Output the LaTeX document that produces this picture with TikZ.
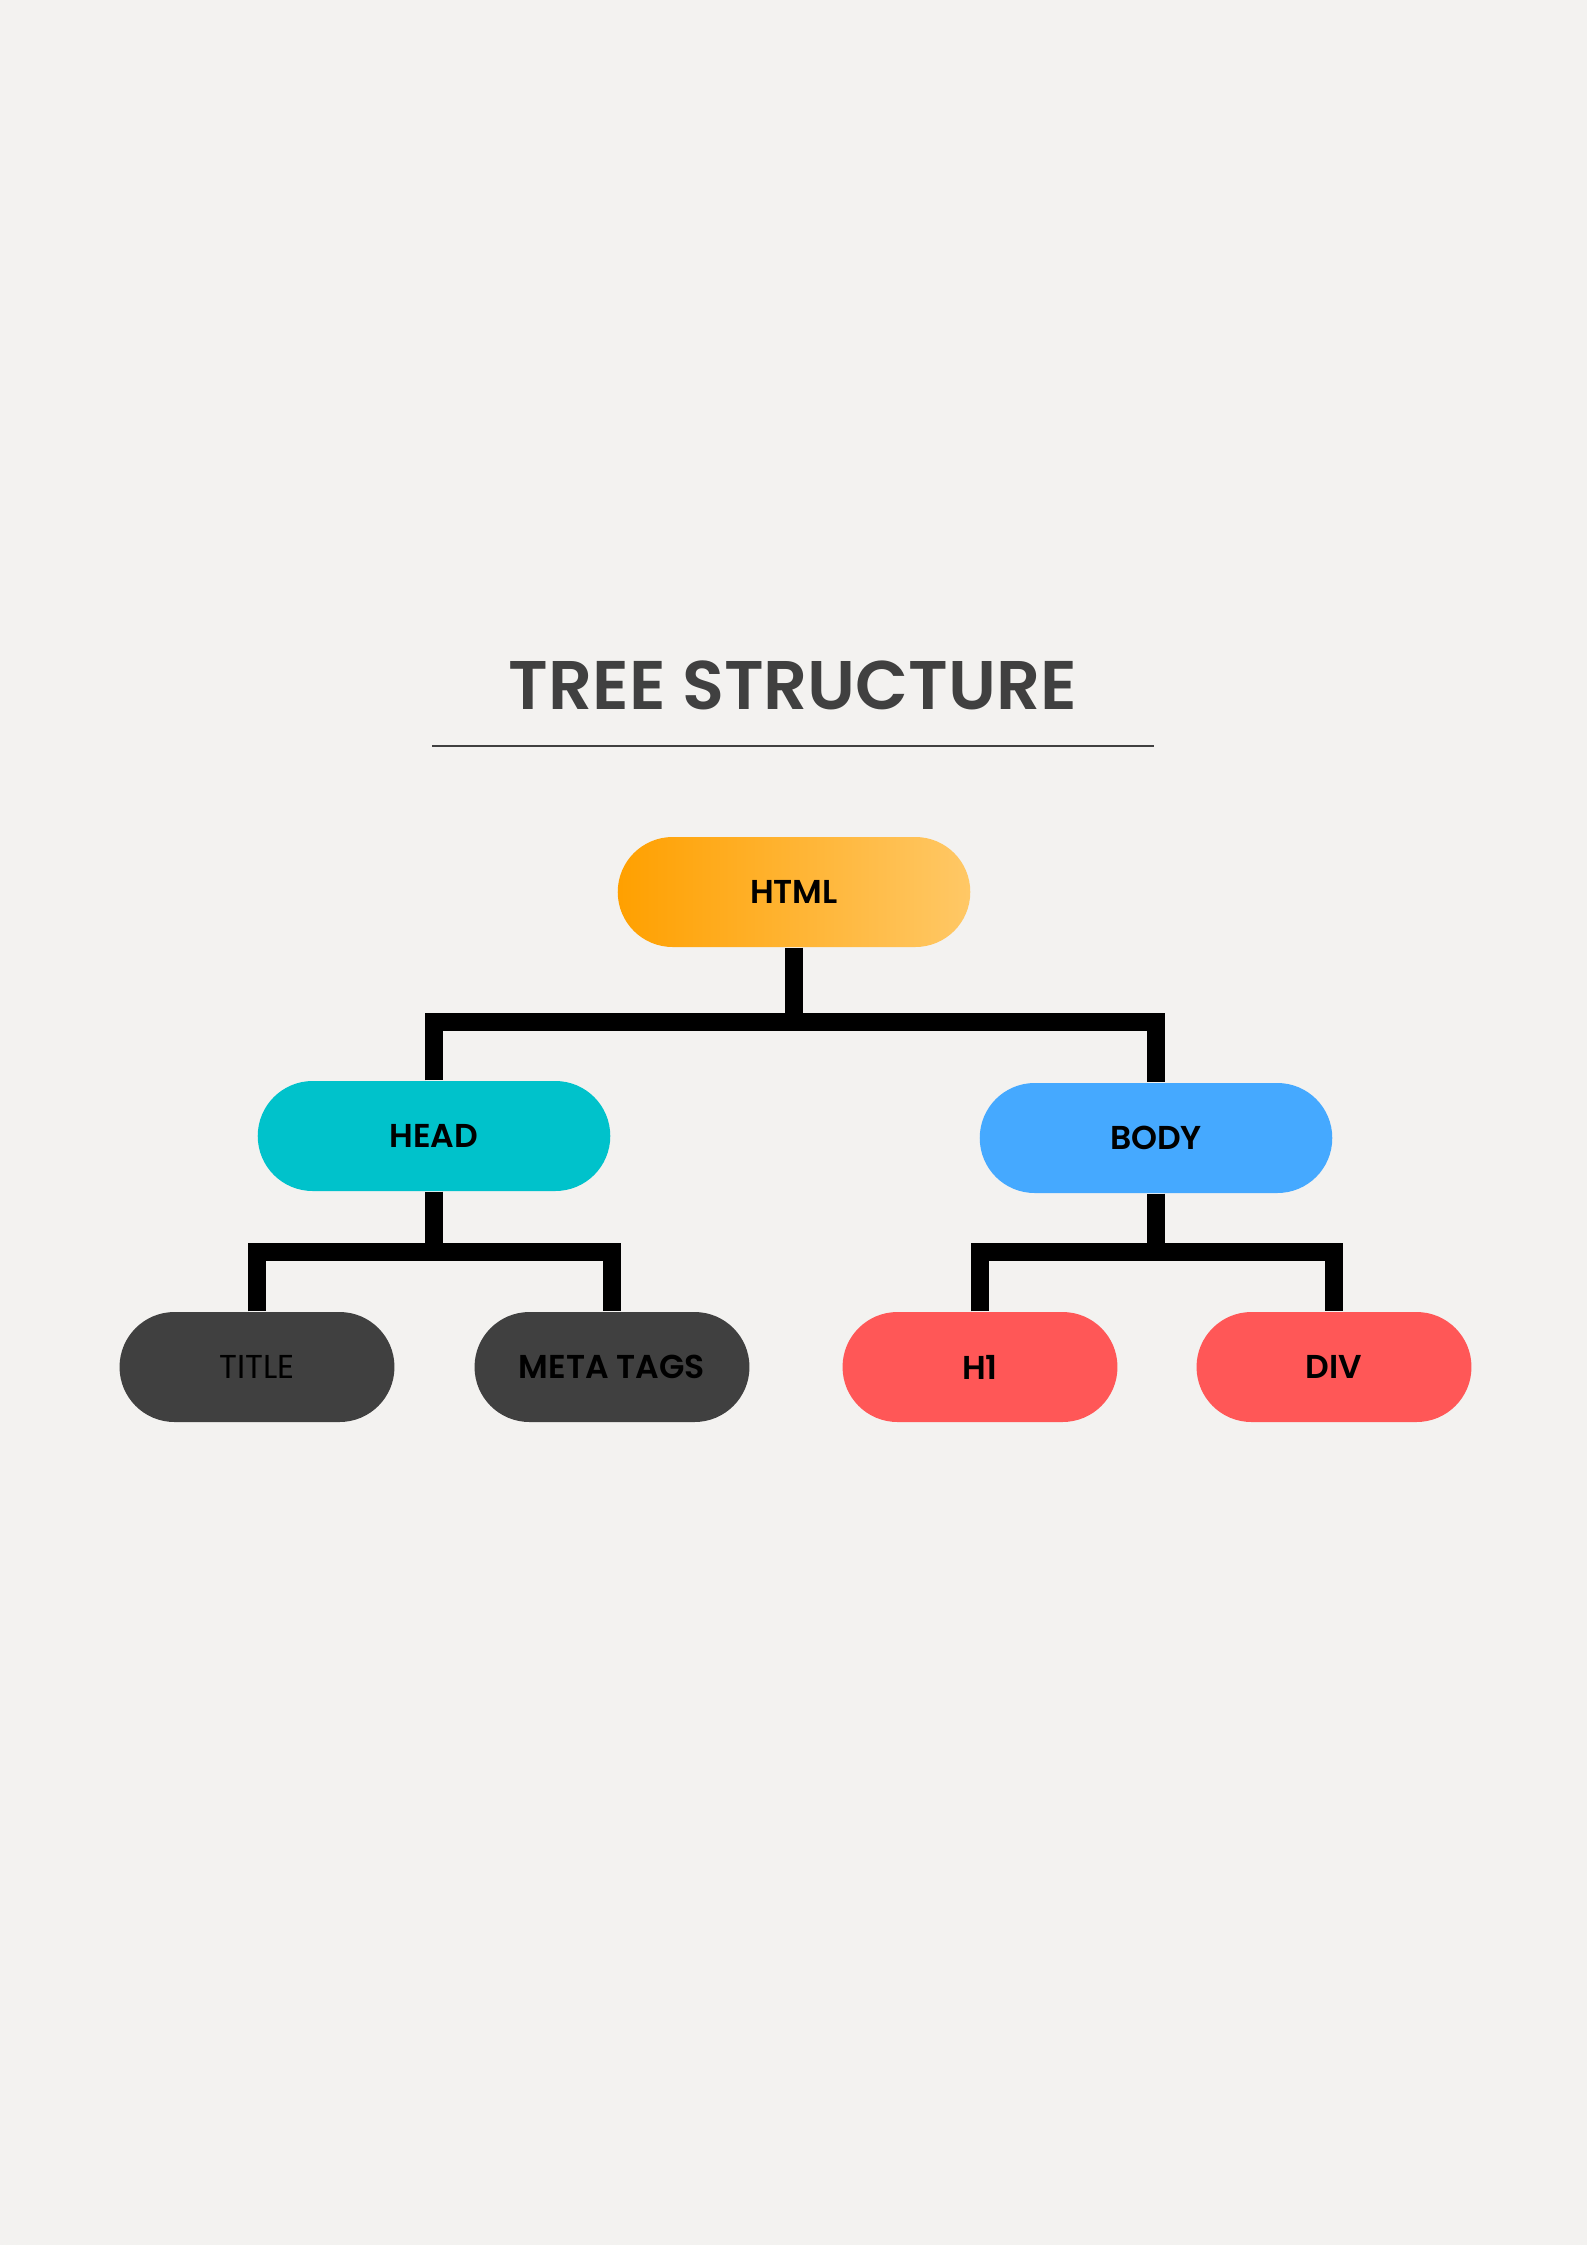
\documentclass[tikz,border=0pt]{standalone}
\usepackage{fontspec}
\setmainfont{Poppins}[BoldFont={Poppins SemiBold}]
\definecolor{bg}{HTML}{F3F2F0}
\definecolor{ink}{HTML}{404040}
\definecolor{orgA}{HTML}{FFA000}
\definecolor{orgB}{HTML}{FFC866}
\definecolor{teal}{HTML}{00C2CB}
\definecolor{sky}{HTML}{45A9FF}
\definecolor{coral}{HTML}{FF5757}
\begin{document}
\begin{tikzpicture}[x=0.375pt,y=-0.375pt,
  every node/.style={font=\fontsize{12.4}{14}\selectfont\bfseries},
  pill/.style={rectangle,rounded corners=20.6pt,minimum height=41.25pt,inner sep=0pt,text=black},
  big/.style={pill,minimum width=132.2pt},
  small/.style={pill,minimum width=103.1pt},
  link/.style={line width=6.4pt,line join=miter,draw=black}]
\useasboundingbox[fill=bg] (0,0) rectangle (1587,2245);
\node[text=ink,font=\fontsize{25.8}{30}\selectfont\bfseries] (ttl) at (793,685) {TREE STRUCTURE};
\draw[ink,line width=0.9pt] (432,746) coordinate (ul) -- (1154,746) coordinate (ur);
% nodes
\node[big,left color=orgA,right color=orgB] (html) at (794,892) {HTML};
\node[big,fill=teal] (head) at (434,1136) {HEAD};
\node[big,fill=sky] (body) at (1156,1138) {BODY};
\node[small,fill=ink,font=\fontsize{12.4}{14}\selectfont] (title) at (257,1367) {TITLE};
\node[small,fill=ink] (meta) at (612,1367) {META TAGS};
\node[small,fill=coral] (hone) at (980,1367) {H1};
\node[small,fill=coral] (div) at (1334,1367) {DIV};
% connectors
\coordinate (topbar) at (794,1022);
\coordinate (headbar) at (434,1252);
\coordinate (bodybar) at (1156,1252);
\draw[link] (html) -- (topbar);
\draw[link] (head.north) |- (topbar) -| (body.north);
\draw[link] (head) -- (headbar);
\draw[link] (title.north) |- (headbar) -| (meta.north);
\draw[link] (body) -- (bodybar);
\draw[link] (hone.north) |- (bodybar) -| (div.north);
\end{tikzpicture}
\end{document}
